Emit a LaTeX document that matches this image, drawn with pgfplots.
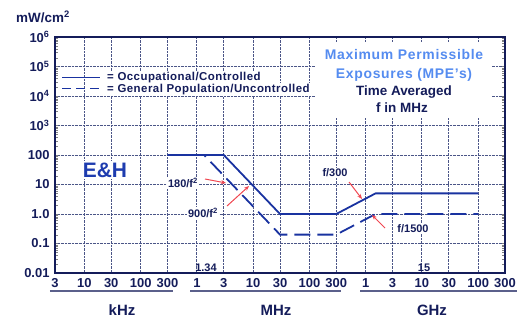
\documentclass[border=0pt]{standalone}
\usepackage{fontspec}
\setmainfont{Liberation Sans}
\usepackage{pgfplots}
\pgfplotsset{compat=1.18}
\usetikzlibrary{arrows.meta}
\definecolor{navy}{RGB}{20,28,90}
\definecolor{linec}{RGB}{25,50,160}
\definecolor{gridc}{RGB}{75,85,135}
\definecolor{titleblue}{RGB}{85,140,240}
\definecolor{ehblue}{RGB}{30,60,175}
\definecolor{arrowred}{RGB}{240,70,80}
\pgfplotstableread{
f p
0.3 100
3 100
30 1
300 1
1500 5
100000 5
}\occup
\pgfplotstableread{
f p
0.3 100
1.34 100
30 0.2
300 0.2
1500 1
100000 1
}\general
\begin{document}
\begin{tikzpicture}[x=1bp,y=1bp]
\useasboundingbox (-55,-48) rectangle (470,273);
\begin{axis}[
  at={(0,0)}, anchor=south west,
  scale only axis, width=450bp, height=236bp,
  xmode=log, ymode=log,
  xmin=0.003, xmax=300000, ymin=0.01, ymax=1e6,
  xtick={0.003,0.01,0.03,0.1,0.3,1,3,10,30,100,300,1000,3000,10000,30000,100000,300000},
  xticklabels={3,10,30,100,300,1,3,10,30,100,300,1,3,10,30,100,300},
  ytick={0.01,0.1,1,10,100,1000,10000,100000,1000000},
  yticklabels={0.01,0.1,1.0,10,100,10\textsuperscript{3},10\textsuperscript{4},10\textsuperscript{5},10\textsuperscript{6}},
  grid=major, major grid style={densely dotted, gridc, line width=0.9pt},
  major tick length=0pt,
  axis line style={navy, line width=2.6pt},
  tick label style={font=\bfseries\fontsize{13}{13}\selectfont, text=navy},
  xticklabel style={anchor=center, yshift=-10.5bp},
  yticklabel style={xshift=-2bp},
]
\addplot[linec, line width=1.8pt] table[x=f,y=p] {\occup};
\addplot[linec, line width=1.8pt, dash pattern=on 16bp off 7bp] table[x=f,y=p] {\general};
\end{axis}
% title block
\fill[white] (260,231) rectangle (437,155);
\node[text=titleblue, font=\bfseries\fontsize{14}{16}\selectfont\addfontfeature{LetterSpace=5}] at (349,218) {Maximum Permissible};
\node[text=titleblue, font=\bfseries\fontsize{14}{16}\selectfont\addfontfeature{LetterSpace=5}] at (349,198) {Exposures (MPE’s)};
\node[text=navy, font=\bfseries\fontsize{13.5}{15}\selectfont] at (349,181) {Time Averaged};
\node[text=navy, font=\bfseries\fontsize{13.5}{15}\selectfont] at (347,165) {f in MHz};
% legend
\draw[linec, line width=1.6pt] (7,195.5) -- (45,195.5);
\draw[linec, line width=1.6pt, dash pattern=on 9bp off 5bp] (7,184.5) -- (45,184.5);
\node[anchor=west, fill=white, inner sep=1pt, text=navy, font=\bfseries\fontsize{11.5}{12}\selectfont\addfontfeature{LetterSpace=4}] at (51,195.5) {= Occupational/Controlled};
\node[anchor=west, fill=white, inner sep=1pt, text=navy, font=\bfseries\fontsize{11.5}{12}\selectfont\addfontfeature{LetterSpace=4}] at (51,183.5) {= General Population/Uncontrolled};
% E&H
\node[fill=white, inner sep=2pt, text=ehblue, font=\bfseries\fontsize{21}{22}\selectfont] at (50,103) {E\&H};
% annotations
\node[fill=white, inner sep=1pt, text=navy, font=\bfseries\fontsize{11}{12}\selectfont] at (128,90) {180/f\textsuperscript{2}};
\node[fill=white, inner sep=1pt, text=navy, font=\bfseries\fontsize{11}{12}\selectfont] at (148,60) {900/f\textsuperscript{2}};
\node[fill=white, inner sep=1pt, text=navy, font=\bfseries\fontsize{11}{12}\selectfont] at (280,100) {f/300};
\node[fill=white, inner sep=1pt, text=navy, font=\bfseries\fontsize{11}{12}\selectfont] at (358,44) {f/1500};
\node[text=navy, font=\bfseries\fontsize{11}{12}\selectfont] at (151,5) {1.34};
\node[text=navy, font=\bfseries\fontsize{11}{12}\selectfont] at (369,5) {15};
\draw[arrowred, line width=1pt, -{Stealth[length=5bp,width=4bp]}] (150,94) -- (171,90);
\draw[arrowred, line width=1pt, -{Stealth[length=5bp,width=4bp]}] (172,67) -- (194,87);
\draw[arrowred, line width=1pt, -{Stealth[length=5bp,width=4bp]}] (294,91) -- (307,74);
\draw[arrowred, line width=1pt, -{Stealth[length=5bp,width=4bp]}] (330,45) -- (317,58);
% axis label and units
\node[text=navy, font=\bfseries\fontsize{13.5}{14}\selectfont] at (-12,256) {mW/cm\textsuperscript{2}};
\draw[navy!70, line width=1.3pt] (-5,-18) -- (118,-18);
\draw[navy!70, line width=1.3pt] (135,-18) -- (286,-18);
\draw[navy!70, line width=1.3pt] (305,-18) -- (462,-18);
\node[text=navy, font=\bfseries\fontsize{15}{16}\selectfont] at (67,-37) {kHz};
\node[text=navy, font=\bfseries\fontsize{15}{16}\selectfont] at (221,-37) {MHz};
\node[text=navy, font=\bfseries\fontsize{15}{16}\selectfont] at (377,-37) {GHz};
\end{tikzpicture}
\end{document}
